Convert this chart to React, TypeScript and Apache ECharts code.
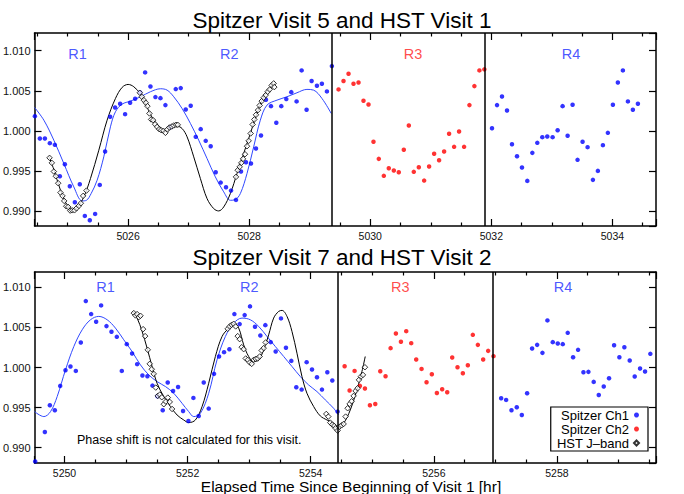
import React, { useEffect, useRef } from "react";
import * as echarts from "echarts";

const FONT = '"Liberation Sans", Arial, Helvetica, sans-serif';

// ---------------- Top panel: Spitzer Visit 5 and HST Visit 1 ----------------
const topTitle = "Spitzer Visit 5 and HST Visit 1";
const topXRange = [5024.454, 5034.72];
const topYRange = [0.98812, 1.01221];
const topDividers = [5029.366, 5031.885];
const topRegionLabels = [
  { text: "R1", x: 5025.163, y: 1.0096, color: "#1a2cff" },
  { text: "R2", x: 5027.671, y: 1.0096, color: "#1a2cff" },
  { text: "R3", x: 5030.708, y: 1.0096, color: "#ff1a1a" },
  { text: "R4", x: 5033.315, y: 1.0096, color: "#1a2cff" },
];

const topCh1R12 = [
  [5024.46, 1.00183], [5024.542, 0.99904], [5024.625, 0.99904], [5024.707, 0.99846], [5024.79, 0.99825],
  [5024.872, 0.99433], [5024.955, 0.99583], [5025.037, 0.99308], [5025.12, 0.99108], [5025.202, 0.99333],
  [5025.285, 0.98938], [5025.367, 0.98883], [5025.455, 0.98963], [5025.532, 0.99325], [5025.62, 0.99742],
  [5025.703, 1.00175], [5025.785, 1.00292], [5025.868, 1.00338], [5025.95, 1.00208], [5026.033, 1.0035],
  [5026.116, 1.004], [5026.198, 1.00479], [5026.281, 1.00729], [5026.369, 1.00554], [5026.451, 1.00421],
  [5026.534, 1.00408], [5026.616, 1.00321], [5026.699, 1.00046], [5026.787, 1.00521], [5026.869, 1.00533],
  [5026.952, 1.00267], [5027.034, 1.00313], [5027.117, 0.99925], [5027.199, 1.00021], [5027.282, 0.99875],
  [5027.364, 0.99808], [5027.447, 0.99483], [5027.529, 0.99354], [5027.617, 0.99296], [5027.7, 0.99254],
  [5027.782, 0.99138], [5027.865, 0.99492], [5027.947, 0.99608], [5028.03, 0.99592], [5028.112, 0.99779],
  [5028.195, 0.99942], [5028.277, 1.00388], [5028.36, 1.00308], [5028.448, 1.001], [5028.53, 1.00308],
  [5028.613, 1.00396], [5028.695, 1.00483], [5028.783, 1.00367], [5028.866, 1.00754], [5028.948, 1.00263],
  [5029.031, 1.00621], [5029.119, 1.00563], [5029.201, 1.00588], [5029.284, 1.00492], [5029.366, 1.00808],
];

const topCh2R3 = [
  [5029.476, 1.00517], [5029.558, 1.00621], [5029.641, 1.00713], [5029.723, 1.00588], [5029.806, 1.00604],
  [5029.888, 1.00375], [5029.971, 1.00329], [5030.053, 0.99863], [5030.141, 0.9965], [5030.224, 0.99438],
  [5030.306, 0.99533], [5030.389, 0.99504], [5030.471, 0.99483], [5030.554, 0.99763], [5030.637, 1.00067],
  [5030.719, 0.99488], [5030.802, 0.99546], [5030.89, 0.99379], [5030.972, 0.99554], [5031.055, 0.99713],
  [5031.137, 0.99633], [5031.22, 0.99742], [5031.302, 0.99963], [5031.385, 0.998], [5031.467, 0.99992],
  [5031.55, 0.998], [5031.638, 1.00321], [5031.72, 1.00558], [5031.803, 1.00754], [5031.885, 1.00767],
];

const topCh1R4 = [
  [5032.011, 1.00033], [5032.094, 1.00321], [5032.176, 1.00429], [5032.259, 1.00254], [5032.341, 0.99833],
  [5032.424, 0.99683], [5032.506, 0.99542], [5032.594, 0.99375], [5032.677, 0.99725], [5032.759, 0.9985],
  [5032.842, 0.99921], [5032.924, 0.99929], [5033.012, 0.99921], [5033.095, 1.00008], [5033.177, 1.00308],
  [5033.26, 0.99938], [5033.342, 1.00325], [5033.424, 0.99638], [5033.507, 0.99863], [5033.59, 0.99796],
  [5033.678, 0.99388], [5033.76, 0.995], [5033.843, 0.99821], [5033.925, 0.99975], [5034.008, 1.00325],
  [5034.09, 1.00604], [5034.173, 1.00754], [5034.256, 1.00367], [5034.338, 1.00263], [5034.421, 1.00338],
];

const topHst = [
  [5024.702, 0.99663], [5024.74, 0.996], [5024.773, 0.99492], [5024.806, 0.99433], [5024.845, 0.99346],
  [5024.883, 0.99229], [5024.916, 0.99188], [5024.944, 0.99125], [5024.977, 0.99058], [5025.01, 0.9905],
  [5025.043, 0.99004], [5025.076, 0.99008], [5025.114, 0.99008], [5025.147, 0.99033], [5025.186, 0.99063],
  [5025.219, 0.99096], [5025.257, 0.99188], [5025.312, 0.99254],
  [5026.193, 1.00475], [5026.226, 1.00425], [5026.259, 1.00383], [5026.292, 1.0035], [5026.319, 1.00308],
  [5026.352, 1.00217], [5026.38, 1.00142], [5026.413, 1.00133], [5026.446, 1.00083], [5026.479, 1.0005],
  [5026.512, 1.00021], [5026.545, 1.00008], [5026.583, 1.0], [5026.616, 0.99975], [5026.649, 1.00017],
  [5026.682, 1.00042], [5026.721, 1.00054], [5026.754, 1.00067], [5026.792, 1.00075], [5026.82, 1.00075],
  [5027.782, 0.99425], [5027.81, 0.99508], [5027.843, 0.9955], [5027.87, 0.996], [5027.898, 0.9965],
  [5027.931, 0.99708], [5027.964, 0.99808], [5027.991, 0.99875], [5028.024, 0.99967], [5028.057, 1.00079],
  [5028.085, 1.00142], [5028.112, 1.002], [5028.145, 1.00258], [5028.173, 1.00317], [5028.206, 1.00371],
  [5028.239, 1.00413], [5028.272, 1.00446], [5028.305, 1.00488], [5028.338, 1.00517], [5028.371, 1.00567],
  [5028.404, 1.00592], [5028.415, 1.00546],
];

const topModelCh1 = [
  [5024.454, 1.00292], [5024.608, 1.00133], [5024.773, 0.99883], [5024.938, 0.99592], [5025.103, 0.993],
  [5025.241, 0.99125], [5025.312, 0.99133], [5025.389, 0.99217], [5025.488, 0.99383], [5025.598, 0.99675],
  [5025.708, 1.0005], [5025.791, 1.00238], [5025.901, 1.00333], [5026.039, 1.00371], [5026.204, 1.00425],
  [5026.369, 1.00488], [5026.534, 1.00525], [5026.644, 1.00508], [5026.754, 1.00425], [5026.891, 1.00279],
  [5027.029, 1.00092], [5027.166, 0.99883], [5027.304, 0.99654], [5027.441, 0.99425], [5027.579, 0.99238],
  [5027.689, 0.99133], [5027.771, 0.99142], [5027.854, 0.99217], [5027.964, 0.99467], [5028.074, 0.998],
  [5028.184, 1.00133], [5028.294, 1.00321], [5028.459, 1.00383], [5028.624, 1.00425], [5028.789, 1.00475],
  [5028.954, 1.00517], [5029.064, 1.00508], [5029.202, 1.00404], [5029.355, 1.00217],
];

const topModelHst = [
  [5024.691, 0.99683], [5024.773, 0.99517], [5024.883, 0.99258], [5024.993, 0.99071], [5025.076, 0.99017],
  [5025.158, 0.99042], [5025.268, 0.99175], [5025.378, 0.99404], [5025.516, 0.99758], [5025.653, 1.00133],
  [5025.791, 1.00404], [5025.901, 1.00542], [5026.0, 1.00579], [5026.094, 1.0055], [5026.204, 1.00458],
  [5026.314, 1.00292], [5026.424, 1.00133], [5026.534, 1.00038], [5026.644, 0.99996], [5026.726, 1.00042],
  [5026.809, 1.00058], [5026.891, 1.00029], [5026.974, 0.99925], [5027.084, 0.99675], [5027.194, 0.99404],
  [5027.304, 0.99154], [5027.414, 0.99029], [5027.496, 0.99], [5027.579, 0.9905], [5027.689, 0.99217],
  [5027.799, 0.99467], [5027.909, 0.99717], [5028.019, 0.99967], [5028.129, 1.00217], [5028.239, 1.00425],
  [5028.349, 1.0055], [5028.431, 1.00592],
];

// ---------------- Bottom panel: Spitzer Visit 7 and HST Visit 2 ----------------
const bottomTitle = "Spitzer Visit 7 and HST Visit 2";
const bottomXRange = [5249.513, 5259.61];
const bottomYRange = [0.98809, 1.01192];
const bottomDividers = [5254.443, 5256.96];
const bottomRegionLabels = [
  { text: "R1", x: 5250.666, y: 1.0101, color: "#1a2cff" },
  { text: "R2", x: 5253.003, y: 1.0101, color: "#1a2cff" },
  { text: "R3", x: 5255.455, y: 1.0101, color: "#ff1a1a" },
  { text: "R4", x: 5258.101, y: 1.0101, color: "#1a2cff" },
];
const bottomNote = "Phase shift is not calculated for this visit.";
const xAxisName = "Elapsed Time Since Beginning of Visit 1 [hr]";

const bottomCh1R12 = [
  [5249.524, 0.98829], [5249.681, 0.99196], [5249.762, 0.99529], [5249.843, 0.99467], [5249.93, 0.99771],
  [5250.016, 0.99967], [5250.097, 1.00013], [5250.184, 0.99958], [5250.265, 1.00313], [5250.346, 1.00829],
  [5250.433, 1.00667], [5250.514, 1.00571], [5250.595, 1.00775], [5250.682, 1.00517], [5250.763, 1.00446],
  [5250.85, 1.00383], [5250.931, 0.99958], [5251.012, 1.00292], [5251.098, 1.00175], [5251.18, 1.00042],
  [5251.266, 0.999], [5251.347, 0.99892], [5251.429, 0.99775], [5251.51, 0.99642], [5251.596, 0.99467],
  [5251.677, 0.99813], [5251.764, 0.99708], [5251.845, 0.99758], [5251.926, 0.99458], [5252.013, 0.99333],
  [5252.094, 0.99621], [5252.181, 0.99396], [5252.262, 0.99813], [5252.343, 0.99488], [5252.43, 0.99921],
  [5252.511, 1.00138], [5252.592, 1.00192], [5252.679, 1.00229], [5252.76, 1.00667], [5252.846, 1.00542],
  [5252.927, 1.00654], [5253.014, 1.00763], [5253.095, 1.00508], [5253.182, 1.004], [5253.263, 1.00529],
  [5253.35, 1.00317], [5253.431, 1.002], [5253.517, 1.00613], [5253.598, 1.00246], [5253.685, 1.00083],
  [5253.766, 0.99754], [5253.853, 0.99725], [5253.934, 1.00067], [5254.021, 0.99975], [5254.102, 0.99879],
  [5254.183, 0.99725], [5254.27, 0.99942], [5254.351, 0.99838], [5254.437, 0.9945],
];

const bottomCh2R3 = [
  [5254.551, 1.00017], [5254.632, 0.99713], [5254.713, 0.99958], [5254.8, 0.99771], [5254.881, 0.99738],
  [5254.962, 0.99529], [5255.049, 0.99546], [5255.13, 0.99954], [5255.216, 0.99892], [5255.298, 1.00242],
  [5255.384, 1.00425], [5255.466, 1.00321], [5255.552, 1.00454], [5255.633, 1.00304], [5255.714, 1.001],
  [5255.801, 0.99983], [5255.882, 0.99817], [5255.968, 0.99917], [5256.05, 0.99683], [5256.136, 0.99729],
  [5256.218, 0.99692], [5256.299, 1.00125], [5256.385, 1.00004], [5256.472, 0.99929], [5256.553, 1.00029],
  [5256.634, 1.00408], [5256.716, 1.00283], [5256.802, 1.001], [5256.883, 1.00208], [5256.97, 1.00142],
];

const bottomCh1R4 = [
  [5257.094, 0.99617], [5257.175, 0.99596], [5257.262, 0.99467], [5257.348, 0.99504], [5257.43, 0.99408],
  [5257.516, 0.99679], [5257.597, 1.00238], [5257.679, 1.00283], [5257.765, 1.00183], [5257.846, 1.00588],
  [5257.933, 1.00317], [5258.014, 1.003], [5258.095, 1.00292], [5258.176, 1.00433], [5258.263, 1.00129],
  [5258.344, 1.00221], [5258.431, 0.99942], [5258.512, 0.99946], [5258.598, 0.99821], [5258.68, 0.99658],
  [5258.761, 0.99763], [5258.847, 0.99867], [5258.929, 1.00279], [5259.015, 1.00129], [5259.096, 1.00254],
  [5259.183, 1.00088], [5259.264, 0.99888], [5259.351, 0.99988], [5259.432, 0.9995], [5259.518, 1.00171],
];

const bottomHst = [
  [5251.126, 1.00679], [5251.153, 1.0065], [5251.18, 1.00667], [5251.207, 1.00629], [5251.234, 1.00646],
  [5251.277, 1.00479], [5251.31, 1.00392], [5251.353, 1.00221], [5251.385, 1.00046], [5251.418, 0.99979],
  [5251.45, 0.99921], [5251.483, 0.9975], [5251.515, 0.99646], [5251.548, 0.99663], [5251.58, 0.99629],
  [5251.613, 0.99542], [5251.645, 0.99575], [5251.678, 0.99625], [5251.71, 0.99571], [5251.748, 0.99483],
  [5252.652, 1.00483], [5252.684, 1.00513], [5252.716, 1.00533], [5252.749, 1.00546], [5252.781, 1.00513],
  [5252.814, 1.00392], [5252.846, 1.00354], [5252.879, 1.00254], [5252.911, 1.00229], [5252.944, 1.00113],
  [5252.976, 1.00096], [5253.009, 1.00063], [5253.041, 1.00046], [5253.074, 1.00096], [5253.106, 1.00108],
  [5253.139, 1.00113], [5253.171, 1.00138], [5253.203, 1.00213], [5253.236, 1.00242], [5253.268, 1.00313],
  [5254.253, 0.99421], [5254.286, 0.99388], [5254.318, 0.99313], [5254.351, 0.99288], [5254.383, 0.99271],
  [5254.405, 0.99242], [5254.437, 0.99213], [5254.47, 0.99263], [5254.502, 0.99279], [5254.535, 0.99296],
  [5254.567, 0.99388], [5254.6, 0.99492], [5254.632, 0.99546], [5254.665, 0.99579], [5254.697, 0.99646],
  [5254.729, 0.99708], [5254.762, 0.99742], [5254.784, 0.99846], [5254.816, 0.99888], [5254.849, 0.99908],
  [5254.881, 1.00004],
];

const bottomModelCh1 = [
  [5249.513, 0.9945], [5249.665, 0.99388], [5249.773, 0.9945], [5249.881, 0.99638], [5250.016, 0.99971],
  [5250.152, 1.00263], [5250.287, 1.00471], [5250.422, 1.00596], [5250.557, 1.00638], [5250.693, 1.00596],
  [5250.828, 1.00492], [5250.963, 1.00346], [5251.098, 1.002], [5251.234, 1.00033], [5251.369, 0.99908],
  [5251.504, 0.99825], [5251.64, 0.99763], [5251.775, 0.99679], [5251.91, 0.99554], [5252.018, 0.9945],
  [5252.1, 0.99388], [5252.208, 0.99429], [5252.343, 0.99679], [5252.478, 1.00096], [5252.614, 1.00388],
  [5252.749, 1.00554], [5252.884, 1.00617], [5253.019, 1.00596], [5253.155, 1.00513], [5253.29, 1.00388],
  [5253.425, 1.00263], [5253.561, 1.00138], [5253.696, 1.00013], [5253.831, 0.99888], [5253.966, 0.99783],
  [5254.102, 0.997], [5254.237, 0.99596], [5254.372, 0.99492], [5254.453, 0.99408],
];

const bottomModelHst = [
  [5251.104, 1.007], [5251.18, 1.00617], [5251.261, 1.0045], [5251.342, 1.00242], [5251.423, 1.00013],
  [5251.504, 0.99804], [5251.613, 0.99638], [5251.721, 0.99513], [5251.829, 0.99408], [5251.937, 0.99346],
  [5252.018, 0.99313], [5252.127, 0.99346], [5252.235, 0.99513], [5252.343, 0.99804], [5252.451, 1.00138],
  [5252.56, 1.00388], [5252.668, 1.00492], [5252.749, 1.00546], [5252.83, 1.00492], [5252.911, 1.00283],
  [5252.992, 1.00138], [5253.074, 1.00075], [5253.155, 1.00096], [5253.236, 1.00221], [5253.317, 1.00408],
  [5253.398, 1.00617], [5253.479, 1.007], [5253.534, 1.00713], [5253.615, 1.00638], [5253.696, 1.0045],
  [5253.777, 1.00179], [5253.858, 0.99888], [5253.939, 0.99679], [5254.048, 0.99513], [5254.156, 0.99396],
  [5254.264, 0.99346], [5254.372, 0.99304], [5254.437, 0.99242], [5254.535, 0.99304], [5254.643, 0.99471],
  [5254.751, 0.99721], [5254.832, 0.9995], [5254.886, 1.00138],
];

const legendNames = ["Spitzer Ch1", "Spitzer Ch2", "HST J\u2013band"];
const ch1Color = "#0000ff";
const ch2Color = "#ff0000";
const modelBlue = "#3048ff";

function buildPanel(p: {
  gi: number;
  xr: number[];
  yr: number[];
  dividers: number[];
  labels: { text: string; x: number; y: number; color: string }[];
  ch1: number[][];
  ch2: number[][];
  hst: number[][];
  mCh1: number[][];
  mHst: number[][];
}) {
  const xa = p.gi * 2;
  const ya = p.gi * 2;
  const axisLine = { show: true, onZero: false, lineStyle: { color: "#000", width: 1.5 } };
  const xAxes = [
    {
      type: "value", gridIndex: p.gi, position: "bottom", min: p.xr[0], max: p.xr[1], splitNumber: 5,
      axisLine, axisTick: { inside: true, length: 7, lineStyle: { color: "#000", width: 1.2 } },
      minorTick: { show: true, splitNumber: 4, length: 3.5, lineStyle: { color: "#000", width: 1.2 } },
      splitLine: { show: false },
      axisLabel: {
        margin: 4, fontSize: 10.5, lineHeight: 11, color: "#111", fontFamily: FONT,
        showMinLabel: false, showMaxLabel: false,
        formatter: (v: number) => String(Math.round(v)),
      },
    },
    {
      type: "value", gridIndex: p.gi, position: "top", min: p.xr[0], max: p.xr[1], splitNumber: 5,
      axisLine, axisTick: { inside: true, length: 7, lineStyle: { color: "#000", width: 1.2 } },
      minorTick: { show: true, splitNumber: 4, length: 3.5, lineStyle: { color: "#000", width: 1.2 } },
      splitLine: { show: false }, axisLabel: { show: false },
    },
  ];
  const yAxes = [
    {
      type: "value", gridIndex: p.gi, position: "left", min: p.yr[0], max: p.yr[1], splitNumber: 5,
      axisLine, axisTick: { inside: true, length: 7, lineStyle: { color: "#000", width: 1.2 } },
      splitLine: { show: false },
      axisLabel: {
        margin: 4, fontSize: 11, color: "#111", fontFamily: FONT, showMinLabel: false, showMaxLabel: false,
        formatter: (v: number) => v.toFixed(3),
      },
    },
    {
      type: "value", gridIndex: p.gi, position: "right", min: p.yr[0], max: p.yr[1], splitNumber: 5,
      axisLine, axisTick: { inside: true, length: 7, lineStyle: { color: "#000", width: 1.2 } },
      splitLine: { show: false }, axisLabel: { show: false },
    },
  ];
  const series: any[] = [
    {
      type: "line", name: "model ch1 " + p.gi, xAxisIndex: xa, yAxisIndex: ya, data: p.mCh1,
      showSymbol: false, symbol: "none", smooth: 0.35, lineStyle: { color: modelBlue, width: 1 }, z: 2,
      markLine: {
        silent: true, symbol: ["none", "none"], label: { show: false },
        lineStyle: { color: "#000", width: 1.5, type: "solid" },
        data: p.dividers.map((v) => ({ xAxis: v })),
      },
    },
    {
      type: "line", name: "model hst " + p.gi, xAxisIndex: xa, yAxisIndex: ya, data: p.mHst,
      showSymbol: false, symbol: "none", smooth: 0.35, lineStyle: { color: "#000", width: 1 }, z: 2,
    },
    {
      type: "scatter", name: legendNames[0], xAxisIndex: xa, yAxisIndex: ya, data: p.ch1,
      symbol: "circle", symbolSize: 4.5, itemStyle: { color: ch1Color }, z: 3,
    },
    {
      type: "scatter", name: legendNames[1], xAxisIndex: xa, yAxisIndex: ya, data: p.ch2,
      symbol: "circle", symbolSize: 4.5, itemStyle: { color: ch2Color }, z: 3,
    },
    {
      type: "scatter", name: legendNames[2], xAxisIndex: xa, yAxisIndex: ya, data: p.hst,
      symbol: "diamond", symbolSize: 5.5,
      itemStyle: { color: "#fff", borderColor: "#000", borderWidth: 1 }, z: 4,
    },
    {
      type: "scatter", name: "labels " + p.gi, xAxisIndex: xa, yAxisIndex: ya,
      data: p.labels.map((l) => ({
        value: [l.x, l.y], name: l.text,
        label: { color: l.color },
      })),
      symbolSize: 0, silent: true, z: 5,
      label: {
        show: true, position: "inside", formatter: (d: any) => d.name,
        fontSize: 14.5, fontFamily: FONT,
      },
    },
  ];
  return { xAxes, yAxes, series };
}

export default function App() {
  const ref = useRef<HTMLDivElement>(null);
  useEffect(() => {
    if (!ref.current) return;
    const chart = echarts.init(ref.current, undefined, { renderer: "svg" });
    const top = buildPanel({
      gi: 0, xr: topXRange, yr: topYRange, dividers: topDividers, labels: topRegionLabels,
      ch1: [...topCh1R12, ...topCh1R4], ch2: topCh2R3, hst: topHst, mCh1: topModelCh1, mHst: topModelHst,
    });
    const bot = buildPanel({
      gi: 1, xr: bottomXRange, yr: bottomYRange, dividers: bottomDividers, labels: bottomRegionLabels,
      ch1: [...bottomCh1R12, ...bottomCh1R4], ch2: bottomCh2R3, hst: bottomHst, mCh1: bottomModelCh1,
      mHst: bottomModelHst,
    });
    const titleStyle = { fontSize: 22.5, fontWeight: "normal", color: "#000", fontFamily: FONT };
    chart.setOption({
      animation: false,
      backgroundColor: "#fff",
      title: [
        { text: topTitle, left: "center", top: 4, textStyle: titleStyle },
        { text: bottomTitle, left: "center", top: 241, textStyle: titleStyle },
      ],
      grid: [
        { left: 34, top: 33, width: 622, height: 193 },
        { left: 34, top: 272, width: 622, height: 191 },
      ],
      xAxis: [...top.xAxes, ...bot.xAxes],
      yAxis: [...top.yAxes, ...bot.yAxes],
      legend: {
        data: legendNames,
        orient: "vertical", align: "right", right: 36, top: 407,
        itemWidth: 5, itemHeight: 5, itemGap: 0,
        padding: [1, 8, 1, 6],
        borderColor: "#000", borderWidth: 1.2, backgroundColor: "#fff",
        selectedMode: false,
        textStyle: { fontSize: 13, color: "#000", fontFamily: FONT, lineHeight: 14 },
      },
      graphic: [
        {
          type: "text", left: 77, top: 433,
          style: { text: bottomNote, fontSize: 12.5, fill: "#000", fontFamily: FONT },
        },
        {
          type: "text", x: 351, y: 486.5,
          style: {
            text: xAxisName, fontSize: 15.5, lineHeight: 14, fill: "#000", fontFamily: FONT,
            align: "center", verticalAlign: "middle",
          },
        },
      ],
      series: [...top.series, ...bot.series],
    });
    return () => chart.dispose();
  }, []);
  return (
    <div
      ref={ref}
      style={{ position: "absolute", left: 0, top: 0, width: 684, height: 494, background: "#fff" }}
    />
  );
}
